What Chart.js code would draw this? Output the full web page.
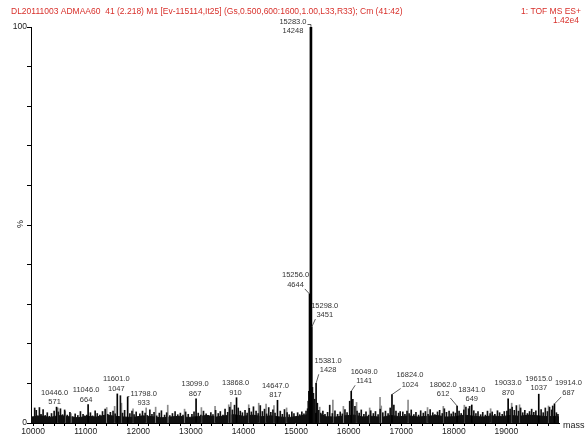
<!DOCTYPE html>
<html>
<head>
<meta charset="utf-8">
<script src="https://cdn.jsdelivr.net/npm/chart.js@4.4.1/dist/chart.umd.min.js"></script>
<style>
  html, body { margin: 0; padding: 0; background: #fff; }
</style>
</head>
<body>
<canvas id="spectrum" width="585" height="438"></canvas>
<script>
// Labelled peaks (mass, raw counts); 14248 counts = 100%
const peakMass  = [10446, 11046, 11601, 11798, 13099, 13868, 14647, 15256, 15283,
                   15298, 15381, 16049, 16824, 18062, 18341, 19033, 19615, 19914];
const peakCount = [571, 664, 1047, 933, 867, 910, 817, 4644, 14248,
                   3451, 1428, 1141, 1024, 612, 649, 870, 1037, 687];
const fullScale = 14248;

// Unlabelled spikes, [mass, % height]
const noiseSticks = [
  [10030,3.8],[10060,3.2],[10085,1.8],[10120,3.9],[10150,2.2],[10190,3.4],[10230,1.9],[10270,2.6],
  [10310,1.7],[10350,2.4],[10400,3.0],[10480,2.8],[10520,3.6],[10560,2.1],[10600,3.3],[10650,2.0],
  [10700,2.7],[10750,1.6],[10800,2.3],[10850,1.9],[10900,2.9],[10950,2.2],[10980,1.8],
  [11020,2.0],[11090,2.6],[11130,1.8],[11180,3.1],[11220,2.4],[11270,2.0],[11320,2.9],[11370,3.5],
  [11420,2.2],[11470,2.7],[11520,3.0],[11560,2.3],[11660,6.9],[11700,2.5],[11740,3.2],[11840,2.4],
  [11880,3.0],[11920,2.1],[11960,2.8],
  [12030,2.3],[12080,3.0],[12130,2.5],[12170,1.9],[12220,3.3],[12260,2.2],[12300,2.7],[12350,1.8],
  [12400,2.5],[12440,3.1],[12500,2.0],[12540,2.6],[12600,1.9],[12650,2.4],[12700,2.9],[12750,2.1],
  [12800,2.5],[12850,2.0],[12900,2.8],[12950,2.2],
  [13020,2.2],[13060,2.8],[13140,2.5],[13190,2.0],[13240,3.0],[13290,2.3],[13330,1.9],[13380,2.6],
  [13420,2.1],[13470,3.2],[13520,2.4],[13560,2.9],[13610,2.0],[13650,3.5],[13700,2.7],[13740,4.0],
  [13790,3.3],[13830,4.5],[13900,3.8],[13940,3.0],[13980,2.6],
  [14030,3.2],[14070,2.5],[14110,3.7],[14150,2.8],[14190,4.1],[14240,3.0],[14280,2.4],[14320,4.4],
  [14360,2.9],[14400,3.5],[14440,2.3],[14480,3.9],[14520,2.7],[14560,3.3],[14600,2.5],[14700,3.0],
  [14740,2.2],[14780,3.4],[14830,2.6],[14870,2.1],[14920,2.8],[14960,2.4],
  [15030,2.6],[15070,2.1],[15110,2.8],[15150,2.3],[15190,3.0],[15220,3.6],[15232,5.5],[15244,8.0],
  [15312,9.0],[15330,7.5],[15352,6.0],[15405,5.0],[15430,3.2],[15470,2.5],[15510,3.0],[15550,2.2],
  [15600,2.7],[15640,4.5],[15690,2.4],[15740,3.1],[15790,2.2],[15840,2.8],[15880,2.3],[15930,3.4],
  [15970,2.6],[16020,5.5],[16080,6.0],[16120,4.2],[16160,3.0],
  [16200,2.5],[16240,3.3],[16290,2.2],[16330,2.8],[16380,2.0],[16420,3.1],[16470,2.4],[16510,2.9],
  [16560,2.1],[16600,3.5],[16650,2.6],[16700,3.0],[16750,2.4],[16790,3.8],[16860,4.5],[16900,3.0],
  [16950,2.5],[16980,2.9],
  [17030,2.8],[17070,2.2],[17110,3.0],[17150,2.4],[17190,3.3],[17240,2.1],[17280,2.7],[17330,2.0],
  [17370,3.1],[17420,2.5],[17460,2.9],[17510,2.2],[17550,3.4],[17600,2.6],[17640,2.1],[17690,2.8],
  [17730,3.2],[17780,2.4],[17820,3.6],[17860,2.7],[17910,3.0],[17950,2.3],[17990,2.8],
  [18030,2.5],[18100,3.0],[18140,2.4],[18190,3.3],[18230,4.0],[18280,3.6],[18300,4.2],[18380,3.1],
  [18420,2.4],[18460,2.9],[18510,2.1],[18550,2.7],[18600,2.0],[18640,3.0],[18690,2.4],[18730,2.8],
  [18780,2.2],[18830,3.1],[18870,2.6],[18920,2.2],[18960,2.9],
  [19010,3.0],[19070,3.5],[19110,4.0],[19150,3.2],[19190,4.4],[19230,3.0],[19270,3.8],[19310,2.6],
  [19350,3.2],[19400,2.4],[19440,2.9],[19480,3.5],[19520,2.7],[19560,3.1],[19660,3.4],[19700,2.6],
  [19740,3.8],[19780,2.9],[19820,4.0],[19860,3.3],[19880,4.3],[19950,2.6],[19980,2.2]
];

// lighter grey spikes
const greySticks = [
  [10470,3.8],[10610,2.9],[10720,2.4],[11400,3.9],[11550,4.2],[11680,5.0],[11900,3.6],[12150,3.8],
  [12330,4.0],[12560,4.5],[12880,3.5],[13200,3.9],[13460,4.2],[13720,4.6],[13760,5.2],[14100,4.6],
  [14290,5.0],[14430,4.8],[14580,4.4],[14820,3.8],[15450,4.0],[15700,5.8],[15900,4.2],[16150,5.2],
  [16400,3.8],[16597,6.5],[16620,4.3],[17130,5.8],[17500,3.9],[17800,4.2],[18200,4.5],[18700,3.6],
  [19100,5.0],[19250,4.6],[19800,4.3]
];

// dense baseline noise band (top edge, %)
const bandMass = [9965, 10150, 10320, 10500, 10680, 10850, 11030, 11200, 11380, 11560, 11740, 11900,
                  12080, 12260, 12440, 12600, 12780, 12950, 13120, 13300, 13480, 13650, 13820,
                  14000, 14180, 14350, 14520, 14700, 14870, 15050, 15220, 15400, 15580, 15750, 15920,
                  16100, 16280, 16450, 16620, 16800, 16970, 17150, 17320, 17500, 17680, 17850,
                  18020, 18200, 18380, 18550, 18720, 18900, 19080, 19250, 19420, 19600, 19780, 19950, 20000];
const bandPct  = [1.5, 1.8, 1.4, 1.9, 1.6, 1.3, 1.7, 1.5, 2.0, 1.7, 1.5, 1.4,
                  1.8, 1.6, 1.3, 1.5, 1.7, 1.4, 1.6, 1.9, 1.5, 1.8, 2.1,
                  1.7, 2.0, 1.6, 1.8, 1.5, 1.4, 1.7, 2.1, 2.5, 1.6, 1.5, 1.8,
                  2.0, 1.5, 1.7, 1.4, 1.9, 1.6, 1.8, 1.5, 1.7, 1.9, 1.5,
                  1.6, 2.0, 1.7, 1.5, 1.8, 1.6, 1.9, 1.7, 2.0, 1.8, 1.6, 1.7, 1.5];

const xTicksLabelled = [10000, 11000, 12000, 13000, 14000, 15000, 16000, 17000, 18000, 19000];

// label placement relative to the peak top: [dx, dy of 2nd line, leader]
const labelNudge = [
  [-2,-5,''], [-2,-5,''], [-1,-5,''], [16,6,'b'], [-1,-5,''], [-1,-5,''], [-2,-5,''],
  [-14,-9,'l'], [-18,4,'b'], [13,-12,'l'], [12,-13,'l'], [13,-10,'l'], [18,-10,'l'],
  [-14,-12,'l'], [0,-6,''], [0,-6,''], [0,-6,''], [14,-11,'l']
];

const FONT = '"Liberation Sans", Arial, sans-serif';
const peakPct = peakCount.map(c => c / fullScale * 100);
const basePeak = peakCount.indexOf(Math.max(...peakCount));

const spectrumText = {
  id: 'spectrumText',
  afterDraw(chart) {
    const { ctx, scales: { x, y } } = chart;
    ctx.save();

    // header
    ctx.fillStyle = '#d8302b';
    ctx.font = '8.5px ' + FONT;
    ctx.textBaseline = 'middle';
    ctx.textAlign = 'left';
    ctx.fillText('DL20111003 ADMAA60  41 (2.218) M1 [Ev-115114,It25] (Gs,0.500,600:1600,1.00,L33,R33); Cm (41:42)', 11, 12);
    ctx.textAlign = 'right';
    ctx.fillText('1: TOF MS ES+', 581, 12);
    ctx.fillText('1.42e4', 579, 21);

    // axis words
    ctx.fillStyle = '#222';
    ctx.font = '9px ' + FONT;
    ctx.textAlign = 'left';
    ctx.fillText('mass', 563, 426);
    ctx.save();
    ctx.translate(21, 224);
    ctx.rotate(-Math.PI / 2);
    ctx.textAlign = 'center';
    ctx.fillText('%', 0, 0);
    ctx.restore();

    // peak labels
    ctx.font = '7.5px ' + FONT;
    ctx.fillStyle = '#333';
    ctx.strokeStyle = '#333';
    ctx.lineWidth = 0.8;
    ctx.textAlign = 'center';
    peakMass.forEach((m, i) => {
      const px = x.getPixelForValue(m);
      const py = y.getPixelForValue(peakPct[i]);
      const [dx, dy, lead] = labelNudge[i];
      const cx = px + dx, y2 = py + dy, y1 = y2 - 9.5;
      const t1 = m.toFixed(1), t2 = String(peakCount[i]);
      ctx.fillText(t1, cx, y1);
      ctx.fillText(t2, cx, y2);
      const dir = Math.sign(dx);
      ctx.beginPath();
      if (lead === 'l') {
        const w2 = ctx.measureText(t2).width;
        ctx.moveTo(cx - dir * (w2 / 2 + 1), y2 + 4);
        ctx.lineTo(px, py);
      } else if (lead === 'b') {
        const w1 = ctx.measureText(t1).width;
        const yb = y1 + 3;
        ctx.moveTo(cx - dir * (w1 / 2 + 1), yb);
        ctx.lineTo(px, yb);
        if (py > yb) ctx.lineTo(px, py);
      }
      ctx.stroke();
    });
    ctx.restore();
  }
};

const toPts = arr => arr.map(([m, p]) => ({ x: m, y: p }));

new Chart(document.getElementById('spectrum'), {
  type: 'bar',
  data: {
    datasets: [
      {
        type: 'line',
        data: bandMass.map((m, i) => ({ x: m, y: bandPct[i] })),
        fill: 'origin',
        backgroundColor: '#111',
        borderColor: '#111',
        borderWidth: 1,
        pointRadius: 0,
        tension: 0,
        order: 5
      },
      { data: toPts(greySticks), backgroundColor: '#8c8c8c', barThickness: 1, order: 4 },
      { data: toPts(noiseSticks), backgroundColor: '#111', barThickness: 1, order: 3 },
      { data: peakMass.map((m, i) => ({ x: m, y: peakPct[i] })), backgroundColor: '#000', barThickness: 1, order: 2 },
      { data: [{ x: peakMass[basePeak], y: peakPct[basePeak] }], backgroundColor: '#000', barThickness: 2, order: 1 }
    ]
  },
  options: {
    responsive: false,
    animation: false,
    devicePixelRatio: 1,
    layout: { padding: { top: 27, right: 26, bottom: 0, left: 0 } },
    datasets: { bar: { grouped: false } },
    plugins: { legend: { display: false }, tooltip: { enabled: false } },
    scales: {
      x: {
        type: 'linear',
        min: 9960,
        max: 20000,
        offset: false,
        afterFit: s => { s.height = 15; },
        afterBuildTicks: s => {
          // minor tick every 200 Da, labels only on the thousands
          const t = [];
          for (let v = 10000; v < 20000; v += 200) t.push({ value: v });
          s.ticks = t;
        },
        border: { display: true, color: '#000', width: 1 },
        grid: { display: true, drawOnChartArea: false, offset: false, color: '#000', tickLength: 3 },
        ticks: {
          autoSkip: false,
          maxRotation: 0,
          padding: 1,
          color: '#222',
          font: { family: FONT, size: 8.5 },
          callback: v => xTicksLabelled.includes(v) ? String(v) : ''
        }
      },
      y: {
        min: 0,
        max: 100,
        afterFit: s => { s.width = 31; },
        border: { display: true, color: '#000', width: 1 },
        grid: { display: true, drawOnChartArea: false, color: '#000', tickLength: 4 },
        ticks: {
          stepSize: 10,
          padding: 0,
          color: '#222',
          font: { family: FONT, size: 8.5 },
          callback: v => (v === 0 || v === 100) ? String(v) : ''
        }
      }
    }
  },
  plugins: [spectrumText]
});
</script>
</body>
</html>
